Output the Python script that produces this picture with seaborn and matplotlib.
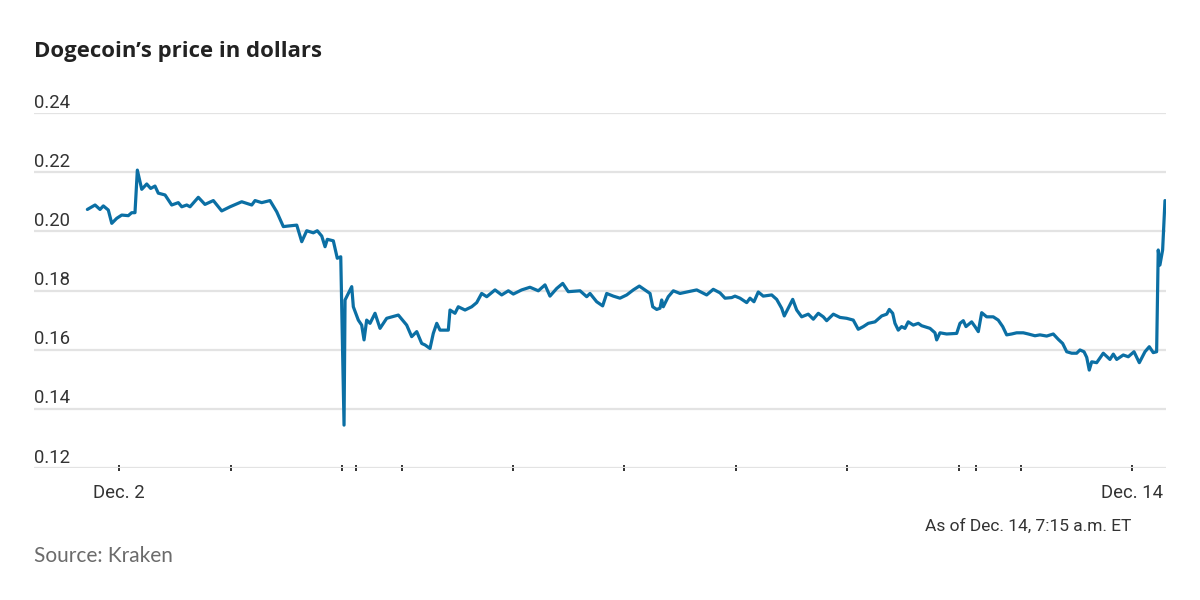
import matplotlib
matplotlib.use("Agg")
import matplotlib.pyplot as plt
import matplotlib.transforms as mtransforms
import seaborn as sns
import pandas as pd

# ---- data (x = days since Dec. 2, 00:00; y = price in dollars) ----
days = [-0.375, -0.284, -0.225, -0.186, -0.127, -0.086, -0.027, 0.032, 0.110, 0.150,
        0.189, 0.217, 0.269, 0.328, 0.375, 0.426, 0.465, 0.545, 0.624, 0.702,
        0.743, 0.802, 0.841, 0.939, 1.018, 1.117, 1.216, 1.315, 1.453, 1.572,
        1.611, 1.690, 1.788, 1.868, 1.946, 2.005, 2.105, 2.164, 2.223, 2.301,
        2.348, 2.401, 2.440, 2.467, 2.538, 2.585, 2.626, 2.665, 2.677, 2.756,
        2.775, 2.834, 2.874, 2.902, 2.933, 2.973, 3.032, 3.091, 3.170, 3.308,
        3.407, 3.466, 3.526, 3.585, 3.624, 3.683, 3.722, 3.763, 3.802, 3.900,
        3.920, 3.979, 4.018, 4.098, 4.177, 4.236, 4.295, 4.355, 4.453, 4.532,
        4.611, 4.670, 4.769, 4.867, 4.966, 5.045, 5.104, 5.184, 5.255, 5.321,
        5.460, 5.539, 5.578, 5.657, 5.728, 5.776, 5.854, 5.933, 6.013, 6.091,
        6.162, 6.229, 6.289, 6.321, 6.368, 6.407, 6.427, 6.446, 6.505, 6.565,
        6.644, 6.742, 6.842, 6.960, 7.038, 7.118, 7.177, 7.256, 7.295, 7.355,
        7.434, 7.473, 7.520, 7.571, 7.630, 7.730, 7.789, 7.848, 7.879, 7.926,
        7.979, 8.026, 8.085, 8.163, 8.223, 8.282, 8.341, 8.381, 8.460, 8.539,
        8.618, 8.696, 8.755, 8.815, 8.874, 8.953, 9.033, 9.092, 9.123, 9.163,
        9.190, 9.229, 9.269, 9.308, 9.347, 9.407, 9.466, 9.506, 9.605, 9.664,
        9.684, 9.723, 9.802, 9.921, 9.960, 9.999, 10.031, 10.098, 10.138, 10.177,
        10.217, 10.276, 10.354, 10.413, 10.466, 10.513, 10.572, 10.631, 10.710, 10.769,
        10.848, 10.907, 10.987, 11.065, 11.124, 11.176, 11.224, 11.283, 11.342, 11.381,
        11.429, 11.461, 11.491, 11.520, 11.579, 11.657, 11.736, 11.776, 11.816, 11.894,
        11.953, 12.021, 12.084, 12.151, 12.202, 12.249, 12.289, 12.308, 12.328, 12.360,
        12.388]

price = [0.2074, 0.2089, 0.2074, 0.2086, 0.2072, 0.2027, 0.2044, 0.2055, 0.2053, 0.2063,
         0.2063, 0.2207, 0.2142, 0.2160, 0.2145, 0.2153, 0.2129, 0.2123, 0.2089, 0.2097,
         0.2083, 0.2089, 0.2083, 0.2115, 0.2091, 0.2104, 0.2069, 0.2083, 0.2100, 0.2089,
         0.2104, 0.2097, 0.2104, 0.2066, 0.2016, 0.2018, 0.2021, 0.1965, 0.2002, 0.1995,
         0.2002, 0.1984, 0.1948, 0.1973, 0.1968, 0.1909, 0.1914, 0.1345, 0.1768, 0.1813,
         0.1745, 0.1700, 0.1683, 0.1633, 0.1700, 0.1689, 0.1723, 0.1672, 0.1706, 0.1717,
         0.1683, 0.1644, 0.1661, 0.1621, 0.1616, 0.1604, 0.1655, 0.1689, 0.1666, 0.1666,
         0.1734, 0.1723, 0.1745, 0.1734, 0.1745, 0.1759, 0.1790, 0.1779, 0.1802, 0.1785,
         0.1799, 0.1788, 0.1802, 0.1811, 0.1799, 0.1819, 0.1781, 0.1807, 0.1824, 0.1796,
         0.1799, 0.1779, 0.1790, 0.1762, 0.1748, 0.1790, 0.1781, 0.1774, 0.1785, 0.1802,
         0.1815, 0.1802, 0.1790, 0.1745, 0.1736, 0.1740, 0.1768, 0.1745, 0.1779, 0.1799,
         0.1790, 0.1796, 0.1802, 0.1785, 0.1804, 0.1792, 0.1774, 0.1776, 0.1781, 0.1774,
         0.1759, 0.1774, 0.1762, 0.1795, 0.1781, 0.1785, 0.1770, 0.1740, 0.1714, 0.1740,
         0.1770, 0.1734, 0.1711, 0.1720, 0.1703, 0.1723, 0.1711, 0.1698, 0.1720, 0.1709,
         0.1706, 0.1700, 0.1669, 0.1678, 0.1689, 0.1694, 0.1714, 0.1720, 0.1736, 0.1723,
         0.1689, 0.1666, 0.1678, 0.1672, 0.1694, 0.1683, 0.1689, 0.1681, 0.1672, 0.1657,
         0.1633, 0.1657, 0.1653, 0.1655, 0.1689, 0.1698, 0.1678, 0.1694, 0.1678, 0.1661,
         0.1725, 0.1711, 0.1711, 0.1700, 0.1678, 0.1650, 0.1653, 0.1657, 0.1657, 0.1653,
         0.1647, 0.1650, 0.1646, 0.1653, 0.1635, 0.1621, 0.1593, 0.1588, 0.1588, 0.1599,
         0.1593, 0.1574, 0.1531, 0.1559, 0.1556, 0.1588, 0.1567, 0.1585, 0.1567, 0.1582,
         0.1576, 0.1593, 0.1556, 0.1593, 0.1610, 0.1590, 0.1593, 0.1937, 0.1886, 0.1937,
         0.2104]

y_ticks = [0.12, 0.14, 0.16, 0.18, 0.20, 0.22, 0.24]
y_tick_labels = ["0.12", "0.14", "0.16", "0.18", "0.20", "0.22", "0.24"]
x_ticks = [0.0, 1.326, 2.645, 2.807, 3.355, 4.666, 5.981, 7.307, 8.625, 9.952,
           10.149, 10.679, 12.0]
x_tick_labels = ["Dec. 2", "", "", "", "", "", "", "", "", "", "", "", "Dec. 14"]

title = "Dogecoin\u2019s price in dollars"
note = "As of Dec. 14, 7:15 a.m. ET"
source = "Source: Kraken"

# ---- style ----
sns.set_style("white")
plt.rcParams["font.family"] = ["Roboto", "DejaVu Sans"]

line_color = "#0b6fa4"
grid_color = "#e3e3e3"
text_color = "#333333"

df = pd.DataFrame({"day": days, "price": price})

fig = plt.figure(figsize=(12, 6), dpi=100)
ax = fig.add_axes([34 / 1200, 1 - 468 / 600, (1166 - 34) / 1200, (468 - 113) / 600])

sns.lineplot(data=df, x="day", y="price", ax=ax, color=line_color,
             linewidth=2.3, estimator=None, sort=False, zorder=3)

ax.set_xlim(-1.007, 12.40)
ax.set_ylim(0.12, 0.24)
ax.set_xlabel("")
ax.set_ylabel("")

for s in ax.spines.values():
    s.set_visible(False)

ax.set_yticks(y_ticks)
ax.set_yticklabels(y_tick_labels)
ax.yaxis.grid(True, color=grid_color, linewidth=1.6, zorder=0)
ax.xaxis.grid(False)
ax.tick_params(axis="y", length=0, pad=0, labelsize=13.3, labelcolor=text_color)
offset = mtransforms.ScaledTranslation(0, 1 / 72, fig.dpi_scale_trans)
for lab in ax.get_yticklabels():
    lab.set_horizontalalignment("left")
    lab.set_verticalalignment("bottom")
    lab.set_transform(lab.get_transform() + offset)

ax.set_xticks(x_ticks)
ax.set_xticklabels(x_tick_labels)
ax.tick_params(axis="x", direction="inout", length=4, width=1.4, color="#333333",
               pad=9.5, labelsize=13.3, labelcolor=text_color, bottom=True)

fig.text(34 / 1200, 1 - 57.3 / 600, title, fontsize=15.9, fontweight="bold",
         color="#222222", family=["Open Sans", "DejaVu Sans"], va="baseline", ha="left")
fig.text(1131 / 1200, 1 - 531 / 600, note, fontsize=12.5, color=text_color,
         va="baseline", ha="right")
fig.text(34 / 1200, 1 - 561.7 / 600, source, fontsize=15, color="#6b6b6b",
         family=["Lato", "DejaVu Sans"], va="baseline", ha="left")

fig.savefig("out.png", dpi=100, facecolor="white")
